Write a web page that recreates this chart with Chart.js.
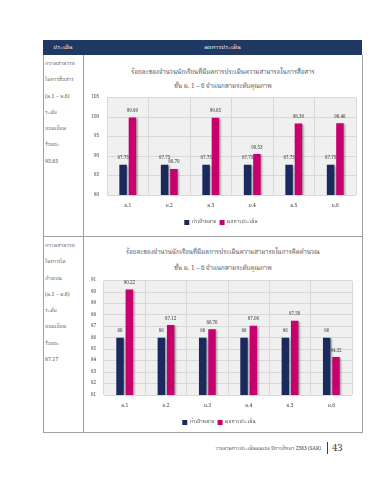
<!DOCTYPE html>
<html>
<head>
<meta charset="utf-8">
<script src="https://cdn.jsdelivr.net/npm/chart.js@4"></script>
<style>
  html,body{margin:0;padding:0;background:#fff;width:370px;height:480px;overflow:hidden;font-family:"Noto Serif Thai","Noto Sans Thai","Noto Sans","DejaVu Sans",sans-serif;color:#404040;}
  .hdr{position:absolute;left:43px;top:40px;width:319px;height:15px;background:#1f3864;}
  .hdr span{position:absolute;top:0;height:15px;line-height:15px;color:#fff;font-size:6px;text-align:center;}
  .line{position:absolute;background:#a0a0a0;}
  .lt{position:absolute;left:45px;font-size:5.3px;color:#555;line-height:16.3px;white-space:nowrap;}
  .ttl{position:absolute;left:84px;width:278px;text-align:center;font-size:6.3px;font-weight:400;color:#555;white-space:nowrap;}
  canvas{position:absolute;}
  .foot{position:absolute;top:445px;right:49px;font-size:5px;color:#404040;white-space:nowrap;}
  .pg{position:absolute;top:441px;left:332px;font-size:9.5px;color:#404040;}
  .bar{position:absolute;top:442px;left:327px;width:1px;height:12px;background:#404040;}
</style>
</head>
<body>
<div class="hdr"><span style="left:0;width:40px;">ประเด็น</span><span style="left:40px;width:279px;">ผลการประเมิน</span></div>
<div class="line" style="left:43px;top:55px;width:1px;height:377px;"></div>
<div class="line" style="left:83px;top:55px;width:1px;height:377px;"></div>
<div class="line" style="left:362px;top:55px;width:1px;height:377px;"></div>
<div class="line" style="left:43px;top:236px;width:320px;height:1px;"></div>
<div class="line" style="left:43px;top:432px;width:320px;height:1px;"></div>

<div class="lt" style="top:56px;">ความสามารถ<br>ในการสื่อสาร<br>(ม.1 – ม.6)<br>ระดับ<br>ยอดเยี่ยม<br>ร้อยละ<br>95.65</div>
<div class="lt" style="top:238px;">ความสามารถ<br>ในการคิด<br>คำนวณ<br>(ม.1 – ม.6)<br>ระดับ<br>ยอดเยี่ยม<br>ร้อยละ<br>87.17</div>

<div class="ttl" style="top:67px;">ร้อยละของจำนวนนักเรียนที่มีผลการประเมินความสามารถในการสื่อสาร</div>
<div class="ttl" style="top:81px;">ชั้น ม. 1 – 6 จำแนกตามระดับคุณภาพ</div>
<div class="ttl" style="top:247px;">ร้อยละของจำนวนนักเรียนที่มีผลการประเมินความสามารถในการคิดคำนวณ</div>
<div class="ttl" style="top:263px;">ชั้น ม. 1 – 6 จำแนกตามระดับคุณภาพ</div>

<canvas id="c1" width="274" height="148" style="left:86px;top:87px;width:274px;height:148px;"></canvas>
<canvas id="c2" width="274" height="165" style="left:86px;top:270px;width:274px;height:165px;"></canvas>

<div class="foot">รายงานการประเมินตนเอง ปีการศึกษา 2563 (SAR)</div>
<div class="bar"></div>
<div class="pg">43</div>

<script>
const categories = ["ม.1","ม.2","ม.3","ม.4","ม.5","ม.6"];
const seriesNames = ["ค่าเป้าหมาย","ผลการประเมิน"];
const commTarget = [87.75,87.75,87.75,87.75,87.75,87.75];
const commResult = [99.89,86.70,99.85,90.53,98.39,98.46];
const calcTarget = [86,86,86,86,86,86];
const calcResult = [90.22,87.12,86.76,87.06,87.50,84.32];
const commTicks = {min:80,max:105,step:5};
const calcTicks = {min:81,max:91,step:1};

const NAVY = "#1b2a5e";
const MAGENTA = "#c7006e";
const FONT = '"Noto Serif Thai","Noto Sans Thai","Noto Sans","DejaVu Sans",sans-serif';

const bgPlugin = {
  id:"bgPlugin",
  beforeDraw(chart){
    const {ctx, chartArea:a} = chart;
    ctx.save();
    ctx.fillStyle = "#f0f0f0";
    ctx.fillRect(a.left, a.top, a.right-a.left, a.bottom-a.top);
    ctx.restore();
  }
};
const shadowPlugin = {
  id:"shadowPlugin",
  beforeDatasetsDraw(chart){
    const ctx = chart.ctx;
    ctx.save();
    ctx.shadowColor = "rgba(0,0,0,0.35)";
    ctx.shadowBlur = 2;
    ctx.shadowOffsetX = 1.5;
    ctx.shadowOffsetY = 1;
  },
  afterDatasetsDraw(chart){ chart.ctx.restore(); }
};
const labelPlugin = {
  id:"labelPlugin",
  afterDatasetsDraw(chart){
    const ctx = chart.ctx;
    ctx.save();
    ctx.font = "4.5px " + FONT;
    ctx.fillStyle = "#404040";
    ctx.textAlign = "center";
    ctx.textBaseline = "bottom";
    chart.data.datasets.forEach((ds, di) => {
      const meta = chart.getDatasetMeta(di);
      meta.data.forEach((el, i) => {
        const v = ds.data[i];
        const txt = Number.isInteger(v) ? String(v) : v.toFixed(2);
        ctx.fillText(txt, el.x, el.y - 4);
      });
    });
    ctx.restore();
  }
};

function makeChart(id, target, result, tk, yW, padR){
  return new Chart(document.getElementById(id), {
    type:"bar",
    data:{
      labels:categories,
      datasets:[
        {label:seriesNames[0], data:target, backgroundColor:NAVY, categoryPercentage:0.45, barPercentage:0.8},
        {label:seriesNames[1], data:result, backgroundColor:MAGENTA, categoryPercentage:0.45, barPercentage:0.8}
      ]
    },
    options:{
      responsive:false,
      animation:false,
      layout:{padding:{top:0,right:padR,left:0,bottom:0}},
      plugins:{
        legend:{position:"bottom",labels:{boxWidth:5,boxHeight:5,padding:3,font:{size:5,family:FONT},color:"#404040"}},
        tooltip:{enabled:false},
        title:{display:false}
      },
      scales:{
        x:{
          grid:{color:"#d8d8d8",offset:true,drawTicks:false},
          border:{display:false},
          ticks:{font:{size:5,family:FONT},color:"#404040",padding:8}
        },
        y:{
          min:tk.min,max:tk.max,
          ticks:{stepSize:tk.step,font:{size:4.5,family:FONT},color:"#404040",padding:8},
          grid:{color:"#d8d8d8",drawTicks:false},
          border:{display:false},
          afterFit(s){ s.width = yW; }
        }
      }
    },
    plugins:[bgPlugin, shadowPlugin, labelPlugin]
  });
}
makeChart("c1", commTarget, commResult, commTicks, 21, 4);
makeChart("c2", calcTarget, calcResult, calcTicks, 18, 8);
</script>
</body>
</html>
